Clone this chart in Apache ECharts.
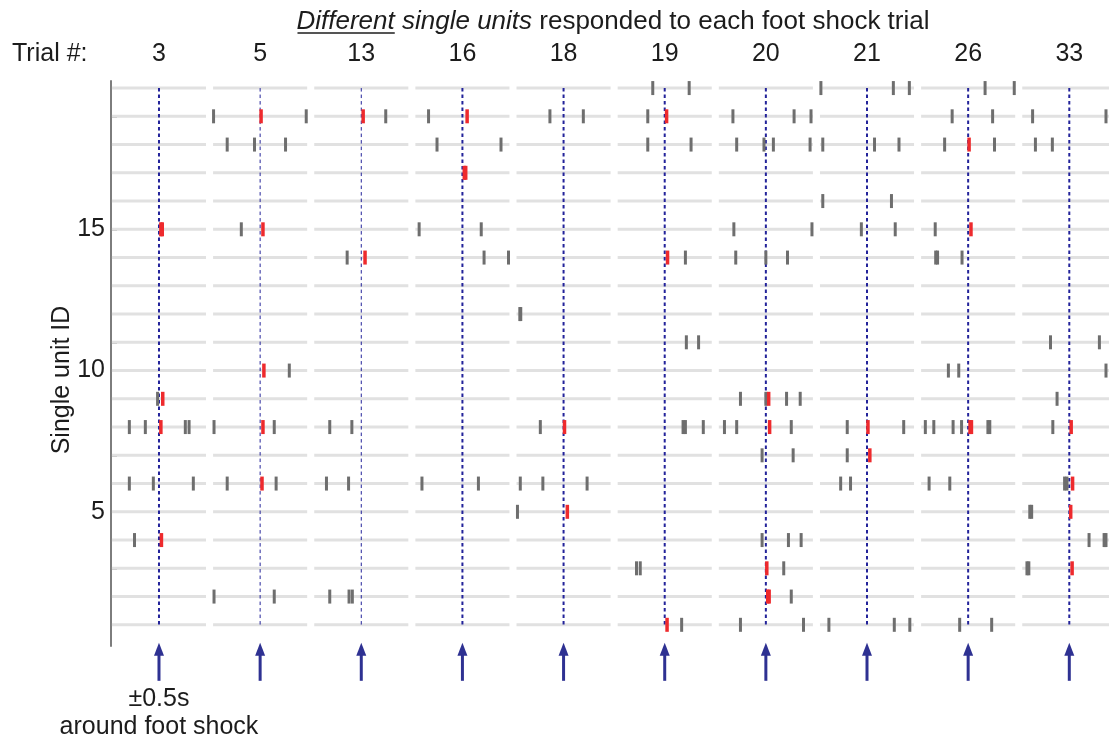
<!DOCTYPE html>
<html>
<head>
<meta charset="utf-8">
<script src="https://cdn.jsdelivr.net/npm/echarts@6/dist/echarts.min.js"></script>
<style>
  html, body { margin: 0; padding: 0; background: #ffffff; }
  #chart { width: 1109px; height: 744px; }
</style>
</head>
<body>
<div id="chart"></div>
<script>
// Foot shock trials shown side by side, each as a ±0.5 s window around the shock.
const trialNumbers = [3, 5, 13, 16, 18, 19, 20, 21, 26, 33];
const unitIds = [1, 2, 3, 4, 5, 6, 7, 8, 9, 10, 11, 12, 13, 14, 15, 16, 17, 18, 19, 20];
const unitTickLabels = [5, 10, 15];

// Background spikes per trial: [unit ID, time from shock (s)]
const spikesTrial3 = [[9, -0.015], [8, -0.315], [8, -0.145], [8, 0.28], [8, 0.32], [6, -0.315], [6, -0.06], [6, 0.365], [4, -0.26]];
const spikesTrial5 = [[19, -0.495], [19, 0.49], [18, -0.35], [18, -0.06], [18, 0.27], [15, -0.2], [10, 0.31], [8, -0.49], [8, 0.15], [6, -0.35], [6, 0.17], [2, -0.49], [2, 0.15]];
const spikesTrial13 = [[19, 0.26], [14, -0.15], [8, -0.335], [8, -0.10], [6, -0.37], [6, -0.135], [2, -0.335], [2, -0.13], [2, -0.095]];
const spikesTrial16 = [[19, -0.36], [18, -0.27], [18, 0.41], [15, -0.46], [15, 0.20], [14, 0.23], [14, 0.49], [6, -0.43], [6, 0.17]];
const spikesTrial18 = [[19, -0.145], [19, 0.21], [12, -0.465], [12, -0.455], [8, -0.247], [6, -0.46], [6, -0.22], [6, 0.25], [5, -0.49]];
const spikesTrial19 = [[20, -0.127], [20, 0.26], [19, -0.18], [18, -0.18], [18, 0.28], [14, 0.22], [11, 0.23], [11, 0.36], [8, 0.195], [8, 0.22], [8, 0.41], [3, -0.30], [3, -0.26], [1, 0.18]];
const spikesTrial20 = [[19, -0.35], [19, 0.30], [19, 0.48], [18, -0.31], [18, -0.02], [18, 0.08], [18, 0.47], [15, -0.34], [15, 0.49], [14, -0.32], [14, 0.0], [14, 0.23], [9, -0.27], [9, 0.0], [9, 0.22], [9, 0.365], [8, -0.44], [8, -0.31], [8, 0.27], [7, -0.04], [7, 0.29], [4, -0.04], [4, 0.24], [4, 0.375], [3, 0.19], [2, 0.27], [1, -0.27], [1, 0.40]];
const spikesTrial21 = [[20, -0.49], [20, 0.28], [20, 0.45], [18, -0.47], [18, 0.08], [18, 0.34], [16, -0.47], [16, 0.26], [15, -0.06], [15, 0.30], [8, -0.21], [8, 0.39], [7, -0.21], [6, -0.28], [6, -0.175], [1, -0.405], [1, 0.29], [1, 0.455]];
const spikesTrial26 = [[20, 0.18], [20, 0.49], [19, -0.17], [19, 0.26], [18, -0.25], [18, 0.28], [15, -0.35], [14, -0.345], [14, -0.325], [14, -0.065], [10, -0.21], [10, -0.10], [8, -0.455], [8, -0.365], [8, -0.16], [8, -0.07], [8, 0.21], [8, 0.23], [6, -0.415], [6, -0.195], [1, -0.09], [1, 0.25]];
const spikesTrial33 = [[19, -0.39], [19, 0.39], [18, -0.36], [18, -0.18], [11, -0.2], [11, 0.32], [10, 0.39], [9, -0.13], [8, -0.175], [6, -0.05], [6, -0.025], [5, -0.42], [5, -0.40], [4, 0.21], [4, 0.37], [4, 0.39], [3, -0.45], [3, -0.43]];

// Spikes right after the shock: [trial #, unit ID, time from shock (s)]
const responseSpikes = [
  [3, 15, 0.02], [3, 15, 0.035], [3, 9, 0.04], [3, 8, 0.02], [3, 4, 0.026],
  [5, 19, 0.01], [5, 15, 0.03], [5, 10, 0.04], [5, 8, 0.03], [5, 6, 0.02],
  [13, 19, 0.02], [13, 14, 0.04],
  [16, 19, 0.05], [16, 17, 0.02], [16, 17, 0.035],
  [18, 8, 0.01], [18, 5, 0.04],
  [19, 19, 0.02], [19, 14, 0.03], [19, 1, 0.025],
  [20, 9, 0.03], [20, 8, 0.04], [20, 3, 0.01], [20, 2, 0.02], [20, 2, 0.035],
  [21, 8, 0.01], [21, 7, 0.03],
  [26, 18, 0.01], [26, 15, 0.03], [26, 8, 0.02], [26, 8, 0.035],
  [33, 8, 0.02], [33, 6, 0.035], [33, 5, 0.015], [33, 3, 0.03]
];

const backgroundByTrial = [spikesTrial3, spikesTrial5, spikesTrial13, spikesTrial16, spikesTrial18,
  spikesTrial19, spikesTrial20, spikesTrial21, spikesTrial26, spikesTrial33];

// Layout of the concatenated time axis (the last window runs off the right edge)
const TRIAL_SPACING = 1.075;   // seconds between window centres on the shared axis
const HALF_WINDOW = 0.5;
const X_MIN = -0.51;
const X_MAX = 10.097;

const FONT = '"Liberation Sans", Arial, Helvetica, sans-serif';
const TEXT_COLOR = '#1c1c1c';
const ROW_COLOR = '#e1e1e1';
const SPIKE_GRAY = '#6e6e6e';
const SPIKE_RED = '#ee2a2d';
const SHOCK_BLUE = '#23239a';
const ARROW_BLUE = '#2e3192';
const AXIS_COLOR = '#7d7d7d';
const shockLineWidths = [2, 1, 1, 2, 2, 2, 2, 2, 2, 2];

const centreOf = k => k * TRIAL_SPACING;

// Build the series data from the arrays above
const rowSegments = [];
unitIds.forEach(u => trialNumbers.forEach((t, k) => rowSegments.push([centreOf(k), u])));

const grayData = [];
backgroundByTrial.forEach((list, k) => list.forEach(([u, t]) => grayData.push([centreOf(k) + t, u])));

const redData = responseSpikes.map(([trial, u, t]) => [centreOf(trialNumbers.indexOf(trial)) + t, u]);

const shockData = trialNumbers.map((t, k) => [centreOf(k), k]);

function spikeRenderer(color, width) {
  return function (params, api) {
    const p = api.coord([api.value(0), api.value(1)]);
    return {
      type: 'rect',
      shape: { x: p[0] - width / 2, y: p[1] - 7, width: width, height: 14 },
      style: { fill: color }
    };
  };
}

// Title pieces measured so the mixed styles sit on one line
const measureCtx = document.createElement('canvas').getContext('2d');
function textWidth(str, font) { measureCtx.font = font; return measureCtx.measureText(str).width; }
const TITLE_SIZE = 26;
const italicFont = 'italic ' + TITLE_SIZE + 'px ' + FONT;
const normalFont = TITLE_SIZE + 'px ' + FONT;
const t1 = 'Different', t2 = ' single units', t3 = ' responded to each foot shock trial';
const w1 = textWidth(t1, italicFont), w2 = textWidth(t2, italicFont), w3 = textWidth(t3, normalFont);
const titleLeft = 613 - (w1 + w2 + w3) / 2;
const titleMid = 22;

const chart = echarts.init(document.getElementById('chart'), null, { renderer: 'canvas' });

chart.setOption({
  animation: false,
  backgroundColor: '#ffffff',
  grid: { left: 111, right: 0, top: 81, bottom: 98, containLabel: false },
  xAxis: {
    type: 'value',
    position: 'top',
    min: X_MIN,
    max: X_MAX,
    axisLine: { show: false },
    axisTick: { show: false },
    splitLine: { show: false },
    axisLabel: {
      customValues: trialNumbers.map((t, k) => centreOf(k)),
      formatter: v => String(trialNumbers[Math.round(v / TRIAL_SPACING)]),
      fontSize: 25,
      fontFamily: FONT,
      color: TEXT_COLOR,
      margin: 14
    }
  },
  yAxis: {
    type: 'value',
    min: 0.25,
    max: 20.25,
    axisLine: { show: true, onZero: false, lineStyle: { color: AXIS_COLOR, width: 2 } },
    axisTick: { show: true, inside: true, length: 6, customValues: unitIds, lineStyle: { color: AXIS_COLOR, width: 1.5 } },
    axisLabel: { customValues: unitTickLabels, fontSize: 25, fontFamily: FONT, color: TEXT_COLOR, margin: 6 },
    splitLine: { show: false }
  },
  graphic: [
    { type: 'text', x: titleLeft, y: titleMid, style: { text: t1, font: italicFont, fill: TEXT_COLOR, verticalAlign: 'middle' } },
    { type: 'line', shape: { x1: titleLeft + 1, y1: 33, x2: titleLeft + w1, y2: 33 }, style: { stroke: TEXT_COLOR, lineWidth: 1.5 } },
    { type: 'text', x: titleLeft + w1, y: titleMid, style: { text: t2, font: italicFont, fill: TEXT_COLOR, verticalAlign: 'middle' } },
    { type: 'text', x: titleLeft + w1 + w2, y: titleMid, style: { text: t3, font: normalFont, fill: TEXT_COLOR, verticalAlign: 'middle' } },
    { type: 'text', x: 12, y: 54.5, style: { text: 'Trial #:', font: '25px ' + FONT, fill: TEXT_COLOR, verticalAlign: 'middle' } },
    { type: 'text', x: 62.5, y: 380, rotation: Math.PI / 2,
      style: { text: 'Single unit ID', font: '25px ' + FONT, fill: TEXT_COLOR, align: 'center', verticalAlign: 'middle' } }
  ],
  series: [
    {
      name: 'trial windows',
      type: 'custom',
      coordinateSystem: 'cartesian2d',
      encode: { x: 0, y: 1 },
      data: rowSegments,
      silent: true,
      clip: false,
      z: 1,
      renderItem: function (params, api) {
        const c = api.value(0), u = api.value(1);
        const a = api.coord([c - HALF_WINDOW, u]);
        const b = api.coord([c + HALF_WINDOW, u]);
        return { type: 'rect', shape: { x: a[0], y: a[1] - 1.5, width: b[0] - a[0], height: 3 }, style: { fill: ROW_COLOR } };
      }
    },
    {
      name: 'foot shock',
      type: 'custom',
      coordinateSystem: 'cartesian2d',
      encode: { x: 0 },
      data: shockData,
      silent: true,
      clip: false,
      z: 2,
      renderItem: function (params, api) {
        const c = api.value(0);
        const top = api.coord([c, unitIds[unitIds.length - 1]]);
        const bottom = api.coord([c, unitIds[0]]);
        return {
          type: 'line',
          shape: { x1: top[0], y1: top[1], x2: bottom[0], y2: bottom[1] },
          style: { stroke: SHOCK_BLUE, lineWidth: shockLineWidths[params.dataIndex], lineDash: [3.5, 3] }
        };
      }
    },
    {
      name: 'spikes',
      type: 'custom',
      coordinateSystem: 'cartesian2d',
      encode: { x: 0, y: 1 },
      data: grayData,
      silent: true,
      clip: false,
      z: 3,
      renderItem: spikeRenderer(SPIKE_GRAY, 3)
    },
    {
      name: 'response spikes',
      type: 'custom',
      coordinateSystem: 'cartesian2d',
      encode: { x: 0, y: 1 },
      data: redData,
      silent: true,
      clip: false,
      z: 4,
      renderItem: spikeRenderer(SPIKE_RED, 3.5)
    },
    {
      name: 'shock arrows',
      type: 'custom',
      coordinateSystem: 'cartesian2d',
      encode: { x: 0 },
      data: shockData,
      silent: true,
      clip: false,
      z: 5,
      renderItem: function (params, api) {
        const c = api.value(0);
        const base = api.coord([c, unitIds[0]]);
        const x = base[0], y0 = base[1];
        const children = [
          { type: 'rect', shape: { x: x - 1.5, y: y0 + 28, width: 3, height: 28 }, style: { fill: ARROW_BLUE } },
          { type: 'polygon', shape: { points: [[x, y0 + 18], [x - 5, y0 + 31], [x + 5, y0 + 31]] }, style: { fill: ARROW_BLUE } }
        ];
        if (params.dataIndex === 0) {
          children.push(
            { type: 'text', x: x, y: y0 + 74.5, style: { text: '±0.5s', font: '25px ' + FONT, fill: TEXT_COLOR, align: 'center', verticalAlign: 'middle' } },
            { type: 'text', x: x, y: y0 + 102.5, style: { text: 'around foot shock', font: '25px ' + FONT, fill: TEXT_COLOR, align: 'center', verticalAlign: 'middle' } }
          );
        }
        return { type: 'group', children: children };
      }
    }
  ]
});
</script>
</body>
</html>
